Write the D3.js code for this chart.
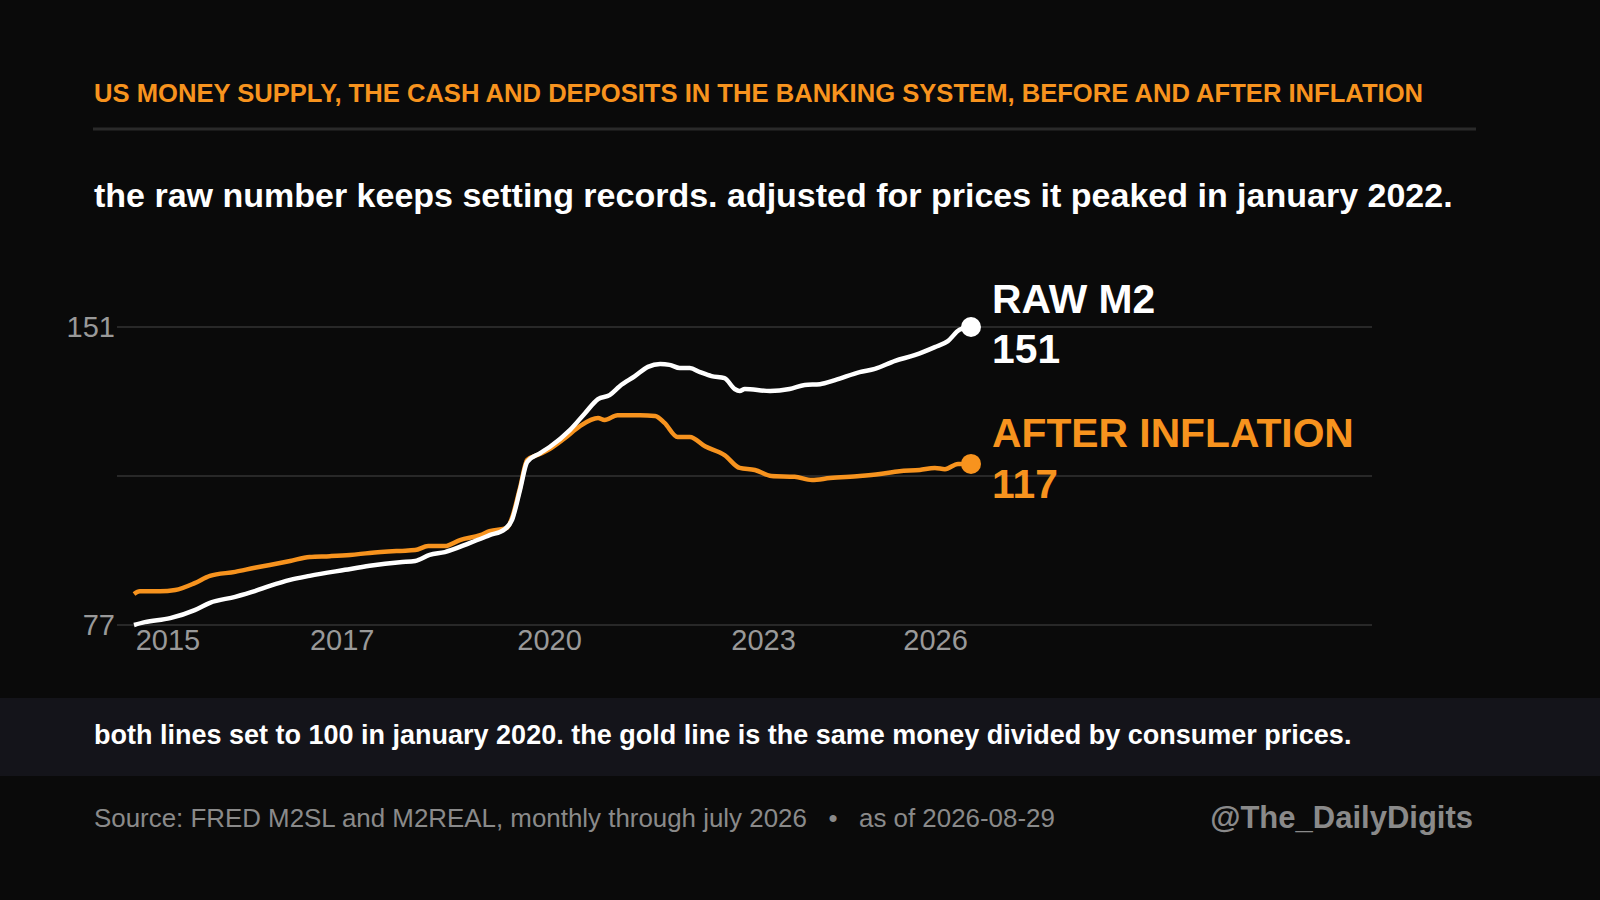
<!DOCTYPE html>
<html><head><meta charset="utf-8">
<script src="https://cdn.jsdelivr.net/npm/d3@7"></script>
<style>body{margin:0;background:#0a0a0a}svg{display:block;font-family:"Liberation Sans",Arial,sans-serif}</style>
</head><body><div id="viz"></div>
<script>
const rawDates = [2015.00,2015.15,2015.50,2015.84,2016.05,2016.40,2016.67,2016.88,2017.16,2017.43,2017.92,2018.26,2018.68,2018.89,2019.09,2019.30,2019.65,2019.92,2020.13,2020.23,2020.34,2020.44,2020.62,2020.75,2021.03,2021.24,2021.42,2021.58,2021.72,2021.93,2022.11,2022.28,2022.41,2022.55,2022.69,2022.83,2022.99,2023.17,2023.31,2023.38,2023.45,2023.80,2024.07,2024.28,2024.49,2024.70,2025.04,2025.25,2025.53,2025.80,2026.08,2026.26,2026.42,2026.58];
const rawValues = [77.0,77.7,78.7,80.7,82.5,84.0,85.4,86.7,88.2,89.2,90.7,91.7,92.6,92.9,94.4,95.1,97.4,99.3,100.8,103.1,110.5,117.5,119.7,121.2,125.4,129.6,133.1,134.1,136.3,138.8,141.1,141.8,141.6,140.8,140.8,139.8,138.8,138.3,135.6,135.1,135.6,135.1,135.6,136.6,136.8,137.8,139.8,140.6,142.6,144.0,146.0,147.5,150.3,151.0];
const realDates = [2015.00,2015.08,2015.36,2015.57,2015.84,2016.05,2016.40,2016.67,2016.88,2017.16,2017.43,2017.71,2017.99,2018.26,2018.68,2018.89,2019.07,2019.30,2019.51,2019.79,2019.92,2020.16,2020.23,2020.34,2020.44,2020.62,2020.75,2020.96,2021.17,2021.42,2021.51,2021.69,2022.00,2022.21,2022.34,2022.52,2022.69,2022.90,2023.17,2023.38,2023.59,2023.82,2024.14,2024.38,2024.63,2025.04,2025.32,2025.59,2025.87,2026.08,2026.22,2026.40,2026.58];
const realValues = [84.7,85.4,85.4,85.7,87.4,89.2,90.2,91.2,91.9,92.9,93.9,94.1,94.4,94.9,95.4,95.6,96.6,96.6,98.1,99.3,100.3,101.1,103.6,111.0,118.0,119.5,120.7,123.4,126.4,128.4,127.9,129.1,129.1,128.9,127.2,123.7,123.7,121.4,119.2,116.0,115.5,114.0,113.8,113.0,113.5,114.0,114.5,115.2,115.5,116.0,115.7,117.0,117.0];
const xTickDates = [2015.47,2017.88,2020.75,2023.71,2026.09];
const xTickLabels = ["2015","2017","2020","2023","2026"];
const yGrid = [77,114,151];
const yLabels = [77,151];

const W=1600,H=900, gold="#f7931e";
const svg=d3.select("#viz").append("svg").attr("width",W).attr("height",H);
svg.append("rect").attr("width",W).attr("height",H).attr("fill","#0a0a0a");

svg.append("text").attr("x",94).attr("y",102).attr("fill",gold).attr("font-weight","bold").attr("font-size",25.6)
  .text("US MONEY SUPPLY, THE CASH AND DEPOSITS IN THE BANKING SYSTEM, BEFORE AND AFTER INFLATION");
svg.append("line").attr("x1",93).attr("x2",1476).attr("y1",129).attr("y2",129).attr("stroke","#2a2a2a").attr("stroke-width",3);
svg.append("text").attr("x",94).attr("y",207).attr("fill","#fff").attr("font-weight","bold").attr("font-size",34)
  .text("the raw number keeps setting records. adjusted for prices it peaked in january 2022.");

const x=d3.scaleLinear().domain([2015,2026.58]).range([134,971]);
const y=d3.scaleLinear().domain([77,151]).range([625,327]);

svg.selectAll(".grid").data(yGrid).join("line").attr("x1",117).attr("x2",1372)
  .attr("y1",d=>y(d)).attr("y2",d=>y(d)).attr("stroke","#333").attr("stroke-width",1.5);
svg.selectAll(".yl").data(yLabels).join("text").attr("x",115).attr("y",d=>y(d)+10)
  .attr("text-anchor","end").attr("fill","#999").attr("font-size",29).text(d=>d);
svg.selectAll(".xl").data(xTickDates).join("text").attr("x",d=>x(d)).attr("y",650)
  .attr("text-anchor","middle").attr("fill","#999").attr("font-size",29).text((d,i)=>xTickLabels[i]);

const line=d3.line().x(d=>x(d[0])).y(d=>y(d[1])).curve(d3.curveMonotoneX);
const raw=d3.zip(rawDates,rawValues), real=d3.zip(realDates,realValues);
svg.append("path").datum(real).attr("d",line).attr("fill","none").attr("stroke",gold).attr("stroke-width",4.5).attr("stroke-linejoin","round");
svg.append("path").datum(raw).attr("d",line).attr("fill","none").attr("stroke","#fff").attr("stroke-width",4.5).attr("stroke-linejoin","round");
const lr=raw[raw.length-1], lg=real[real.length-1];
svg.append("circle").attr("cx",x(lr[0])).attr("cy",y(lr[1])).attr("r",10).attr("fill","#fff");
svg.append("circle").attr("cx",x(lg[0])).attr("cy",y(lg[1])).attr("r",10).attr("fill",gold);

function lab(t,yy,c){svg.append("text").attr("x",992).attr("y",yy).attr("fill",c).attr("font-weight","bold").attr("font-size",40.8).text(t);}
lab("RAW M2",313,"#fff"); lab(Math.round(lr[1]),363,"#fff");
lab("AFTER INFLATION",447,gold); lab(Math.round(lg[1]),498,gold);

svg.append("rect").attr("x",0).attr("y",698).attr("width",W).attr("height",78).attr("fill","#14141a");
svg.append("text").attr("x",94).attr("y",744).attr("fill","#fff").attr("font-weight","bold").attr("font-size",27)
  .text("both lines set to 100 in january 2020. the gold line is the same money divided by consumer prices.");
svg.append("text").attr("x",94).attr("y",827).attr("fill","#8a8a8a").attr("font-size",25.9)
  .text("Source: FRED M2SL and M2REAL, monthly through july 2026   •   as of 2026-08-29").style("white-space","pre");
svg.append("text").attr("x",1473).attr("y",828).attr("text-anchor","end").attr("fill","#8a8a8a").attr("font-weight","bold").attr("font-size",31)
  .text("@The_DailyDigits");
</script></body></html>
